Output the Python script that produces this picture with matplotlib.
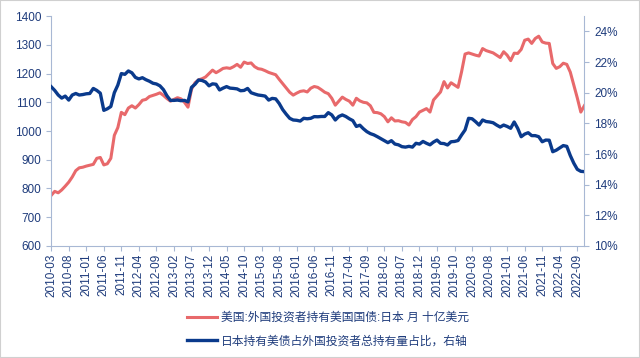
import numpy as np
import pandas as pd
import matplotlib
matplotlib.use("Agg")
import matplotlib.pyplot as plt
from matplotlib.patches import Rectangle

plt.rcParams['font.family'] = ['Liberation Sans', 'Noto Sans CJK SC', 'DejaVu Sans']

# monthly, 2010-03 .. 2022-11
months = pd.period_range('2010-03', '2022-11', freq='M').strftime('%Y-%m').tolist()

# Japan holdings of US Treasuries, bn USD (left axis)
japan_ust = [
    776, 790, 785, 795, 808, 822, 840, 862, 872, 874,
    878, 881, 884, 905, 908, 882, 886, 905, 985, 1012,
    1065, 1057, 1080, 1088, 1080, 1092, 1107, 1110, 1120, 1124,
    1128, 1133, 1124, 1113, 1104, 1110, 1116, 1112, 1100, 1083,
    1145, 1168, 1178, 1182, 1188, 1200, 1212, 1203, 1210, 1218,
    1220, 1218, 1224, 1232, 1222, 1240, 1235, 1237, 1224, 1217,
    1215, 1210, 1204, 1200, 1196, 1180, 1165, 1150, 1135, 1125,
    1132, 1138, 1140, 1136, 1149, 1155, 1152, 1144, 1135, 1130,
    1114, 1090, 1104, 1118, 1110, 1104, 1090, 1114, 1105, 1100,
    1098, 1088, 1065, 1064, 1060, 1050, 1032, 1046, 1035, 1036,
    1032, 1030, 1021, 1040, 1050, 1066, 1072, 1078, 1066, 1108,
    1122, 1136, 1172, 1150, 1168, 1160, 1152, 1206, 1268, 1272,
    1268, 1264, 1261, 1287, 1280, 1276, 1272, 1264, 1256, 1276,
    1264, 1245, 1271, 1270, 1284, 1316, 1320, 1305, 1322, 1330,
    1310, 1306, 1305, 1235, 1218, 1224, 1236, 1232, 1205, 1160,
    1115, 1066, 1088,
]

# Japan share of total foreign holdings, % (right axis)
japan_share = [
    20.39, 20.15, 19.85, 19.65, 19.78, 19.52, 19.85, 19.95, 19.85, 19.88,
    19.93, 19.95, 20.28, 20.15, 19.97, 18.85, 18.95, 19.10, 20.00, 20.50,
    21.25, 21.20, 21.42, 21.30, 21.00, 20.90, 20.98, 20.85, 20.75, 20.62,
    20.57, 20.45, 20.20, 19.80, 19.50, 19.50, 19.52, 19.48, 19.50, 19.40,
    20.35, 20.55, 20.83, 20.80, 20.70, 20.45, 20.58, 20.55, 20.18, 20.30,
    20.40, 20.30, 20.28, 20.25, 20.13, 20.15, 20.28, 20.00, 19.92, 19.85,
    19.82, 19.78, 19.52, 19.63, 19.60, 19.30, 18.90, 18.60, 18.33, 18.22,
    18.20, 18.15, 18.33, 18.30, 18.33, 18.44, 18.43, 18.45, 18.45, 18.70,
    18.55, 18.22, 18.45, 18.55, 18.45, 18.30, 18.18, 17.80, 17.88, 17.65,
    17.46, 17.33, 17.25, 17.13, 17.00, 16.87, 16.74, 16.87, 16.65, 16.60,
    16.48, 16.45, 16.50, 16.45, 16.70, 16.65, 16.82, 16.70, 16.60, 16.78,
    16.91, 16.70, 16.68, 16.59, 16.80, 16.82, 16.88, 17.24, 17.57, 18.33,
    18.30, 18.11, 17.89, 18.22, 18.12, 18.09, 18.04, 17.89, 17.76, 17.89,
    17.80, 17.68, 18.09, 17.68, 17.13, 17.30, 17.39, 17.20, 17.20, 17.13,
    16.80, 16.91, 16.90, 16.15, 16.25, 16.40, 16.55, 16.50, 15.90, 15.40,
    15.00, 14.87, 14.85,
]

label_red = '美国:外国投资者持有美国国债:日本 月 十亿美元'
label_blue = '日本持有美债占外国投资者总持有量占比，右轴'

red = '#E8696B'
navy = '#0A3A8C'
txt = '#1F3C7C'
axc = '#A8B8D4'

x = np.arange(len(months))

fig = plt.figure(figsize=(6.4, 3.58), dpi=100)
fig.patches.append(Rectangle((0, 0), 1, 1, transform=fig.transFigure,
                             fill=False, edgecolor='#D0D0D0', lw=1.5))
ax = fig.add_axes([0.080, 0.313, 0.833, 0.642])
ax2 = ax.twinx()

l1, = ax.plot(x, japan_ust, color=red, lw=2.2, label=label_red)
l2, = ax2.plot(x, japan_share, color=navy, lw=2.4, label=label_blue)

ax.set_xlim(0, len(months) - 1)
ax.set_ylim(600, 1400)
ax.set_yticks(range(600, 1401, 100))
ax2.set_ylim(10, 25)
ax2.set_yticks(range(10, 25, 2))
ax2.set_yticklabels([f'{v}%' for v in range(10, 25, 2)])

ticks = x[::5]
ax.set_xticks(ticks)
ax.set_xticklabels([months[i] for i in ticks], rotation=90)

for a in (ax, ax2):
    for s in a.spines.values():
        s.set_color(axc)
    a.spines['top'].set_visible(False)
    a.tick_params(colors=axc, labelcolor=txt, labelsize=8.5, length=3.5, width=0.8)
ax.spines['right'].set_visible(False)
ax2.spines['left'].set_visible(False)
ax2.spines['bottom'].set_visible(False)
ax.tick_params(axis='x', pad=2)

fig.legend(handles=[l1, l2], loc='center', bbox_to_anchor=(0.512, 0.079),
           ncol=1, frameon=False, fontsize=8.5, handlelength=2.6,
           labelspacing=0.95, handletextpad=0.3, labelcolor=txt)

fig.savefig('out.png', dpi=100)
